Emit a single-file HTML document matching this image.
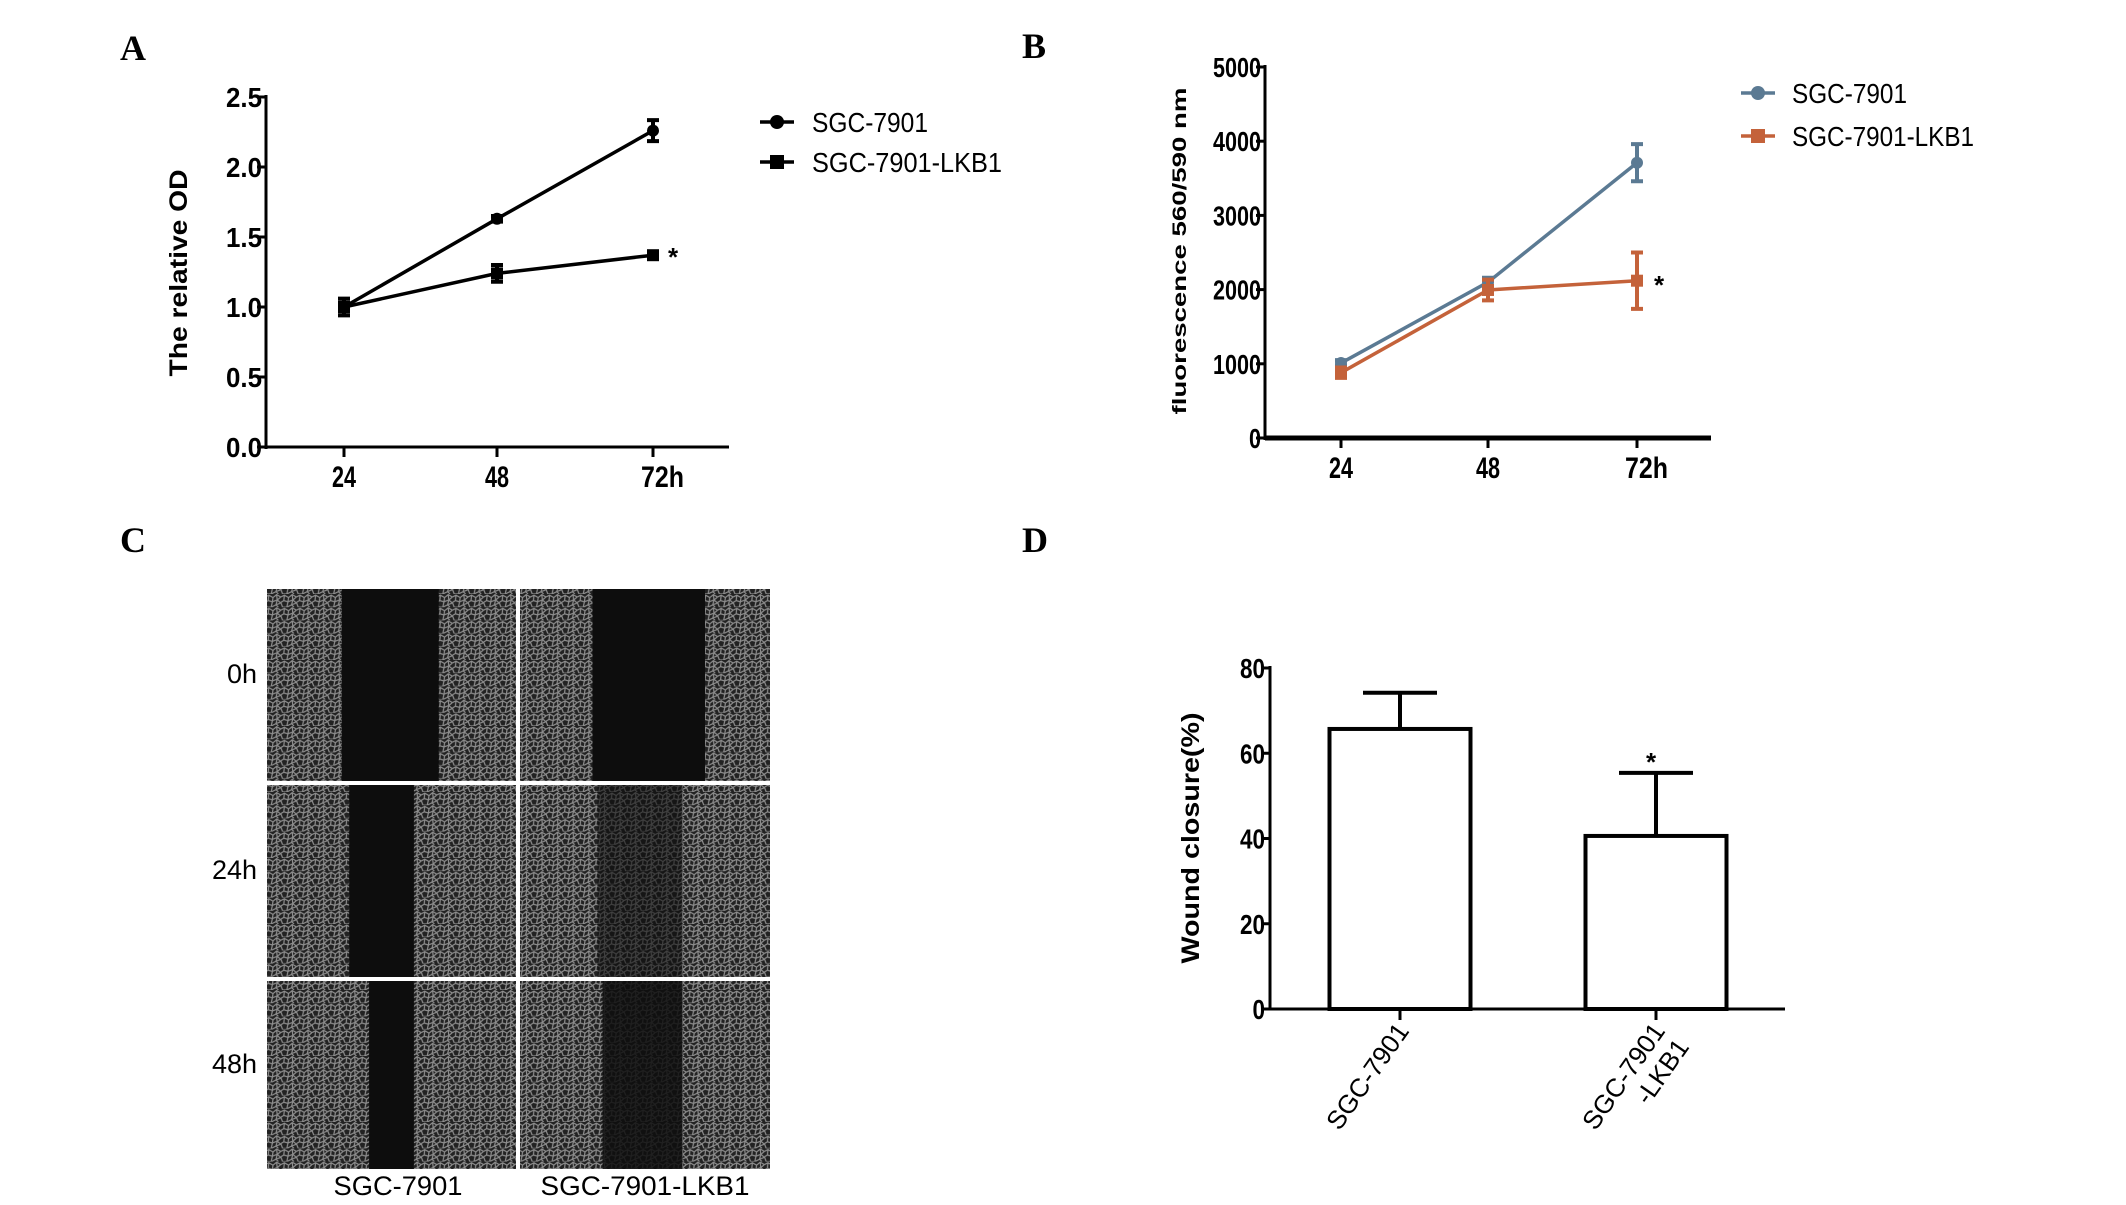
<!DOCTYPE html>
<html><head><meta charset="utf-8"><style>
html,body{margin:0;padding:0;background:#fff;width:2126px;height:1205px;overflow:hidden}
svg text{font-family:"Liberation Sans",sans-serif}
.nar{font-family:"Liberation Sans Narrow","Liberation Sans",sans-serif;font-weight:bold}
.pl{font-family:"Liberation Serif",serif;font-weight:bold;font-size:36px}
</style></head><body>
<svg id="fig" width="2126" height="1205" viewBox="0 0 2126 1205" xmlns="http://www.w3.org/2000/svg">
<defs>
<pattern id="cells" width="26" height="22" patternUnits="userSpaceOnUse" patternTransform="scale(0.6)">
<rect width="26" height="22" fill="#222"/>
<path d="M0 5 L6 2 L13 6 L19 1 L26 5 M6 2 L5 11 L0 14 M13 6 L12 13 L5 11 M19 1 L20 10 L12 13 M26 5 L20 10 L26 15 M0 14 L3 22 M12 13 L10 22 M20 10 L18 18 L26 15 M18 18 L22 22 M10 22 L3 22 M18 18 L10 22" stroke="#8e8e8e" stroke-width="2" fill="none"/>
</pattern>
</defs>
<text class="pl" x="120" y="60">A</text>
<text class="pl" x="1022" y="58">B</text>
<text class="pl" x="120" y="552">C</text>
<text class="pl" x="1022" y="552">D</text>
<g id="pa"></g>
<g id="pb"></g>
<g id="pc"></g>
<g id="pd"></g>
</svg>
<script>
// Panel A data
const aCats=["24","48","72h"];
const aS1=[1.0,1.63,2.26];
const aS1Err=[0.03,0.02,0.075];
const aS2=[1.0,1.24,1.37];
const aS2Err=[0.06,0.06,0.02];
const aTicks=["0.0","0.5","1.0","1.5","2.0","2.5"];
const aTickVals=[0,0.5,1,1.5,2,2.5];
const aLegend=["SGC-7901","SGC-7901-LKB1"];
// Panel B data
const bCats=["24","48","72h"];
const bS1=[1010,2100,3710];
const bS1Err=[40,60,250];
const bS2=[880,1995,2120];
const bS2Err=[70,140,380];
const bTicks=["0","1000","2000","3000","4000","5000"];
const bTickVals=[0,1000,2000,3000,4000,5000];
const bLegend=["SGC-7901","SGC-7901-LKB1"];
// Panel D data
const dCats=["SGC-7901","SGC-7901|-LKB1"];
const dVals=[65.7,40.6];
const dErr=[8.5,14.8];
const dTicks=["0","20","40","60","80"];
const dTickVals=[0,20,40,60,80];

const NS="http://www.w3.org/2000/svg";
function mk(p,tag,at,txt){const e=document.createElementNS(NS,tag);for(const k in at)e.setAttribute(k,at[k]);if(txt!==undefined)e.textContent=txt;p.appendChild(e);return e;}

function lineChart(g,cfg){
  const ys=v=>cfg.y0+(cfg.y1-cfg.y0)*(v-cfg.vmin)/(cfg.vmax-cfg.vmin);
  const xs=i=>cfg.xt[i];
  let e;
  e=mk(g,"line",{x1:cfg.ax,y1:cfg.y1-2,x2:cfg.ax,y2:cfg.y0+2,stroke:"#000","stroke-width":3});
  
  
  e=mk(g,"line",{x1:cfg.ax,y1:cfg.y0,x2:cfg.axr,y2:cfg.y0,stroke:"#000","stroke-width":cfg.xw});
  
  
  cfg.tv.forEach((v,i)=>{
    e=mk(g,"line",{x1:cfg.ax-9,y1:ys(v),x2:cfg.ax,y2:ys(v),stroke:"#000","stroke-width":3});
    
    
    e=mk(g,"text",{class:"nar",x:cfg.ax-4,y:ys(v)+10,"text-anchor":"end","font-size":28,textLength:cfg.tlw[i],lengthAdjust:"spacingAndGlyphs"},cfg.tl[i]);
    
    
  });
  cfg.cats.forEach((c,i)=>{
    e=mk(g,"line",{x1:xs(i),y1:cfg.y0,x2:xs(i),y2:cfg.y0+10,stroke:"#000","stroke-width":3});
    
    
    const w=c.length>2?43:24;
    e=mk(g,"text",{class:"nar",x:xs(i)-12,y:cfg.y0+40,"font-size":30,textLength:w,lengthAdjust:"spacingAndGlyphs"},c);
    
    
  });
  e=mk(g,"text",{x:0,y:0,"font-weight":"bold","font-size":cfg.tfs,textLength:cfg.tlen,lengthAdjust:"spacingAndGlyphs","text-anchor":"middle",transform:`translate(${cfg.tx},${cfg.ty}) rotate(-90)`},cfg.title);
  
  
  [[cfg.s1,cfg.e1,cfg.c1,"circle"],[cfg.s2,cfg.e2,cfg.c2,"square"]].forEach(([s,er,col,sh],si)=>{
    const pts=s.map((v,i)=>xs(i)+","+ys(v)).join(" ");
    e=mk(g,"polyline",{points:pts,fill:"none",stroke:col,"stroke-width":3.5});
    
    
    s.forEach((v,i)=>{
      const x=xs(i),t=ys(v+er[i]),b=ys(v-er[i]);
      e=mk(g,"path",{d:`M${x} ${t}V${b}M${x-6} ${t}H${x+6}M${x-6} ${b}H${x+6}`,stroke:col,"stroke-width":4,fill:"none"});
      
      
      if(sh==="circle"){e=mk(g,"circle",{cx:x,cy:ys(v),r:6,fill:col});}
      else{e=mk(g,"rect",{x:x-6,y:ys(v)-6,width:12,height:12,fill:col});}
      
      
    });
  });
  const li=[cfg.leg[0],cfg.leg[1]];
  li.forEach((l,i)=>{
    const col=i?cfg.c2:cfg.c1,ly=cfg.ly[i];
    e=mk(g,"line",{x1:cfg.lx-17,y1:ly,x2:cfg.lx+17,y2:ly,stroke:col,"stroke-width":3.5});
    
    
    e=i?mk(g,"rect",{x:cfg.lx-7,y:ly-7,width:14,height:14,fill:col}):mk(g,"circle",{cx:cfg.lx,cy:ly,r:7,fill:col});
    
    
    e=mk(g,"text",{x:cfg.ltx,y:ly+10,"font-size":28,textLength:i?cfg.lw[1]:cfg.lw[0],lengthAdjust:"spacingAndGlyphs"},l);
    
    
  });
  const st=cfg.star;
  e=mk(g,"text",{x:st[0],y:st[1]+14,"font-size":26,"font-weight":"bold"},"*");
  
  
}
lineChart(document.getElementById("pa"),{ax:266,axr:729,y0:447,y1:97,vmin:0,vmax:2.5,xt:[344,497,653],xw:3,
  tv:aTickVals,tl:aTicks,tlw:aTicks.map(()=>36),cats:aCats,s1:aS1,e1:aS1Err,s2:aS2,e2:aS2Err,c1:"#000",c2:"#000",
  title:"The relative OD",tx:187,ty:273,tfs:25,tlen:207,leg:aLegend,lx:777,ly:[122,162],ltx:812,lw:[116,190],star:[668,252]});
lineChart(document.getElementById("pb"),{ax:1265,axr:1711,y0:438,y1:67,vmin:0,vmax:5000,xt:[1341,1488,1637],xw:5,
  tv:bTickVals,tl:bTicks,tlw:bTicks.map(t=>t.length*12),cats:bCats,s1:bS1,e1:bS1Err,s2:bS2,e2:bS2Err,c1:"#5b7a93",c2:"#c4623a",
  title:"fluorescence   560/590 nm",tx:1186,ty:251,tfs:19,tlen:327,leg:bLegend,lx:1758,ly:[93,136],ltx:1792,lw:[115,182],star:[1654,280]});

// Panel D
(function(){
  const g=document.getElementById("pd");
  const ax=1270,axr=1785,y0=1009,y1=668,vmax=80;
  const ys=v=>y0-(y0-y1)*v/vmax;
  const xc=[1400,1656],bw=141;
  let e;
  e=mk(g,"line",{x1:ax,y1:y1-2,x2:ax,y2:y0,stroke:"#000","stroke-width":3});
  
  
  e=mk(g,"line",{x1:ax,y1:y0,x2:axr,y2:y0,stroke:"#000","stroke-width":3});
  
  
  dTickVals.forEach((v,i)=>{
    e=mk(g,"line",{x1:ax-9,y1:ys(v),x2:ax,y2:ys(v),stroke:"#000","stroke-width":3});
    
    
    e=mk(g,"text",{class:"nar",x:ax-5,y:ys(v)+10,"text-anchor":"end","font-size":28,textLength:dTicks[i].length*12.5,lengthAdjust:"spacingAndGlyphs"},dTicks[i]);
    
    
  });
  dVals.forEach((v,i)=>{
    const x=xc[i];
    e=mk(g,"path",{d:`M${x} ${ys(v)}V${ys(v+dErr[i])}M${x-37} ${ys(v+dErr[i])}H${x+37}`,stroke:"#000","stroke-width":4,fill:"none"});
    
    
    e=mk(g,"rect",{x:x-bw/2,y:ys(v),width:bw,height:y0-ys(v),fill:"#fff",stroke:"#000","stroke-width":4});
    
    
    e=mk(g,"line",{x1:x,y1:y0,x2:x,y2:y0+11,stroke:"#000","stroke-width":3});
    
    
    const lines=dCats[i].split("|");
    lines.forEach((ln,j)=>{
      e=mk(g,"text",{x:0,y:0,"font-size":26,"text-anchor":"end",transform:`translate(${x+10+j*24},${y0+22+j*16}) rotate(-55)`},ln);
      
      
    });
  });
  e=mk(g,"text",{x:1646,y:771,"font-size":26,"font-weight":"bold"},"*");
  
  
  e=mk(g,"text",{x:0,y:0,"font-weight":"bold","font-size":25,textLength:251,lengthAdjust:"spacingAndGlyphs","text-anchor":"middle",transform:"translate(1199,838) rotate(-90)"},"Wound closure(%)");
  
  
})();

// Panel C images
(function(){
  const g=document.getElementById("pc");
  const cols=[[267,516],[520,770]],rows=[[589,781],[785,977],[981,1169]];
  const wounds=[[[0.30,0.69,1],[0.29,0.74,1]],[[0.33,0.59,1],[0.31,0.65,0.6]],[[0.41,0.59,1],[0.33,0.65,0.85]]];
  const rl=["0h","24h","48h"];
  let e;
  rows.forEach((r,ri)=>{
    cols.forEach((c,ci)=>{
      const w=c[1]-c[0],h=r[1]-r[0];
      e=mk(g,"rect",{x:c[0],y:r[0],width:w,height:h,fill:"url(#cells)"});
      
      
      const wd=wounds[ri][ci];
      e=mk(g,"rect",{x:c[0]+w*wd[0],y:r[0],width:w*(wd[1]-wd[0]),height:h,fill:"#0d0d0d","fill-opacity":wd[2]});
      
      
    });
    e=mk(g,"text",{x:257,y:(r[0]+r[1])/2-2,"font-size":27,"text-anchor":"end"},rl[ri]);
    
    
  });
  e=mk(g,"text",{x:398,y:1195,"font-size":27,"text-anchor":"middle",textLength:129,lengthAdjust:"spacingAndGlyphs"},"SGC-7901");
  
  
  e=mk(g,"text",{x:645,y:1195,"font-size":27,"text-anchor":"middle",textLength:209,lengthAdjust:"spacingAndGlyphs"},"SGC-7901-LKB1");
  
  
})();
</script>
</body></html>
